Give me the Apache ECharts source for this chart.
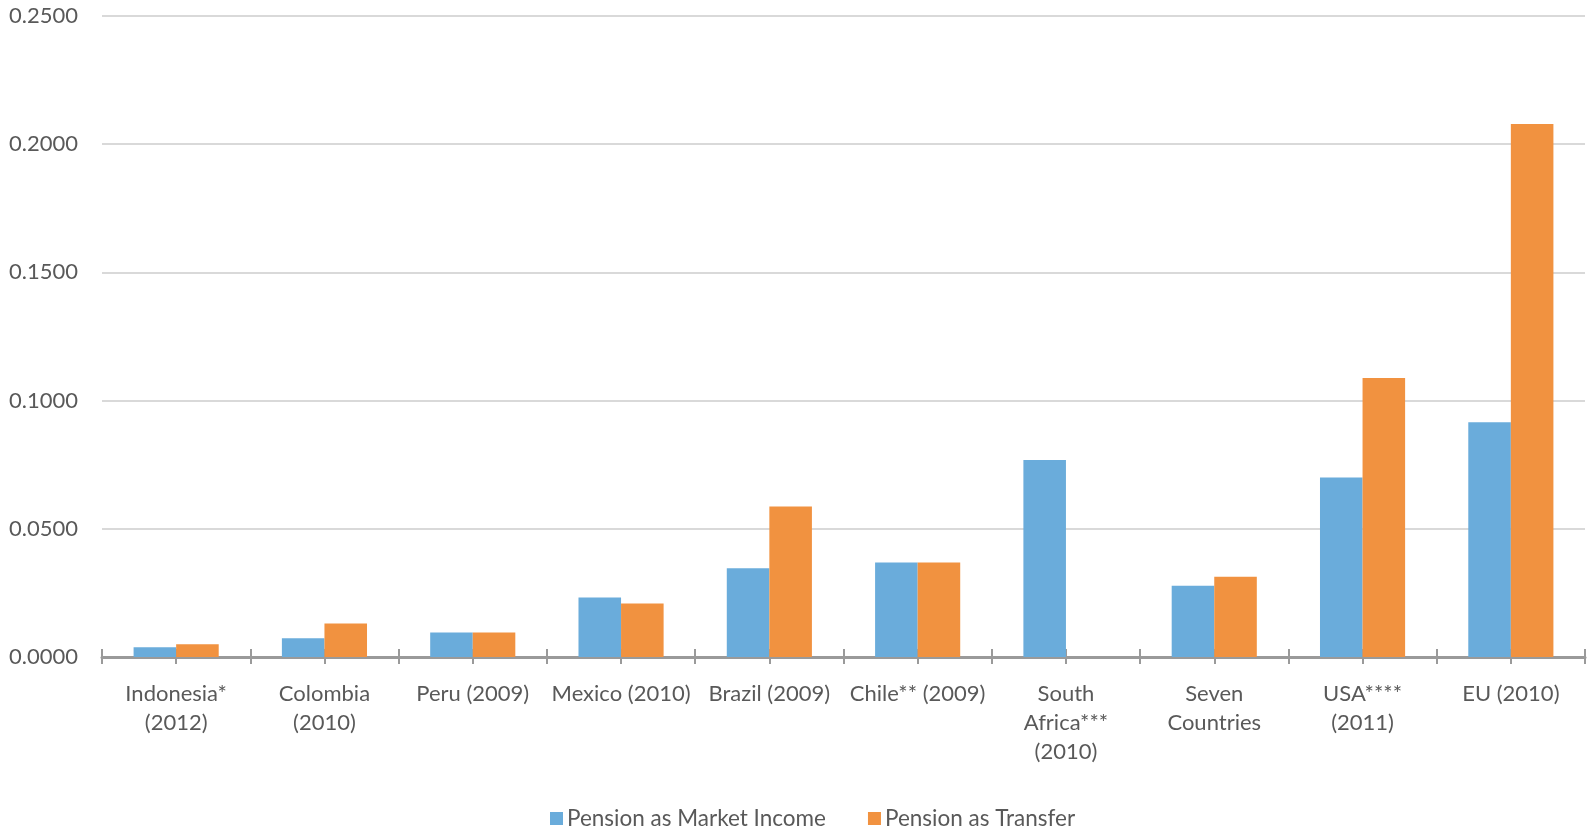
<!DOCTYPE html>
<html>
<head>
<meta charset="utf-8">
<script src="https://cdn.jsdelivr.net/npm/echarts@6/dist/echarts.min.js"></script>
<style>
  html, body { margin: 0; padding: 0; background: #ffffff; }
  #chart { width: 1587px; height: 830px; }
</style>
</head>
<body>
<div id="chart"></div>
<script>
// Categories (country, survey year)
const categories = [
  'Indonesia*\n(2012)', 'Colombia\n(2010)', 'Peru (2009)', 'Mexico (2010)',
  'Brazil (2009)', 'Chile** (2009)', 'South\nAfrica***\n(2010)',
  'Seven\nCountries', 'USA****\n(2011)', 'EU (2010)'
];
// Pension treated as market income
const marketIncome = [0.0038, 0.0073, 0.0096, 0.0232, 0.0346, 0.0369, 0.0768, 0.0278, 0.0700, 0.0916];
// Pension treated as a transfer
const transfer = [0.0050, 0.0131, 0.0096, 0.0209, 0.0587, 0.0369, null, 0.0313, 0.1088, 0.2079];
// Value axis
const yMin = 0, yMax = 0.25, yStep = 0.05;

const FONT = 'Lato';
const TEXT = '#595959';
const AXIS = '#9a9a9a';

const chart = echarts.init(document.getElementById('chart'));

// Hidden copies of the category axis, only used to draw crossing tick marks
function tickAxis(alignCenter) {
  return {
    type: 'category', data: categories, position: 'bottom', offset: 7,
    axisLine: { show: false },
    axisTick: { show: true, inside: true, length: 15, alignWithLabel: alignCenter,
                lineStyle: { color: AXIS, width: 2 } },
    axisLabel: { show: false }, splitLine: { show: false }
  };
}

chart.setOption({
  animation: false,
  grid: { left: 102, right: 2, top: 16, bottom: 173, containLabel: false },
  legend: {
    top: 802, left: 545, itemWidth: 13, itemHeight: 13, itemGap: 42,
    icon: 'rect',
    textStyle: { fontFamily: FONT, fontSize: 22.5, color: TEXT, padding: [0, 0, 0, -1] },
    data: ['Pension as Market Income', 'Pension as Transfer']
  },
  xAxis: [
    {
      type: 'category', data: categories,
      axisLine: { show: true, lineStyle: { color: AXIS, width: 3 } },
      axisTick: { show: false },
      axisLabel: { fontFamily: FONT, fontSize: 22, color: TEXT, margin: 22, lineHeight: 29, interval: 0 }
    },
    tickAxis(false),
    tickAxis(true)
  ],
  yAxis: {
    type: 'value', min: yMin, max: yMax, interval: yStep,
    axisLine: { show: false }, axisTick: { show: false },
    axisLabel: { fontFamily: FONT, fontSize: 22, color: TEXT, margin: 24,
                 formatter: v => v.toFixed(4) },
    splitLine: { lineStyle: { color: '#d9d9d9', width: 2 } }
  },
  series: [
    { name: 'Pension as Market Income', type: 'bar', data: marketIncome,
      barWidth: '28.7%', barGap: '0%', itemStyle: { color: '#6aacdb' } },
    { name: 'Pension as Transfer', type: 'bar', data: transfer,
      barWidth: '28.7%', barGap: '0%', itemStyle: { color: '#f19240' } }
  ]
});
</script>
</body>
</html>
